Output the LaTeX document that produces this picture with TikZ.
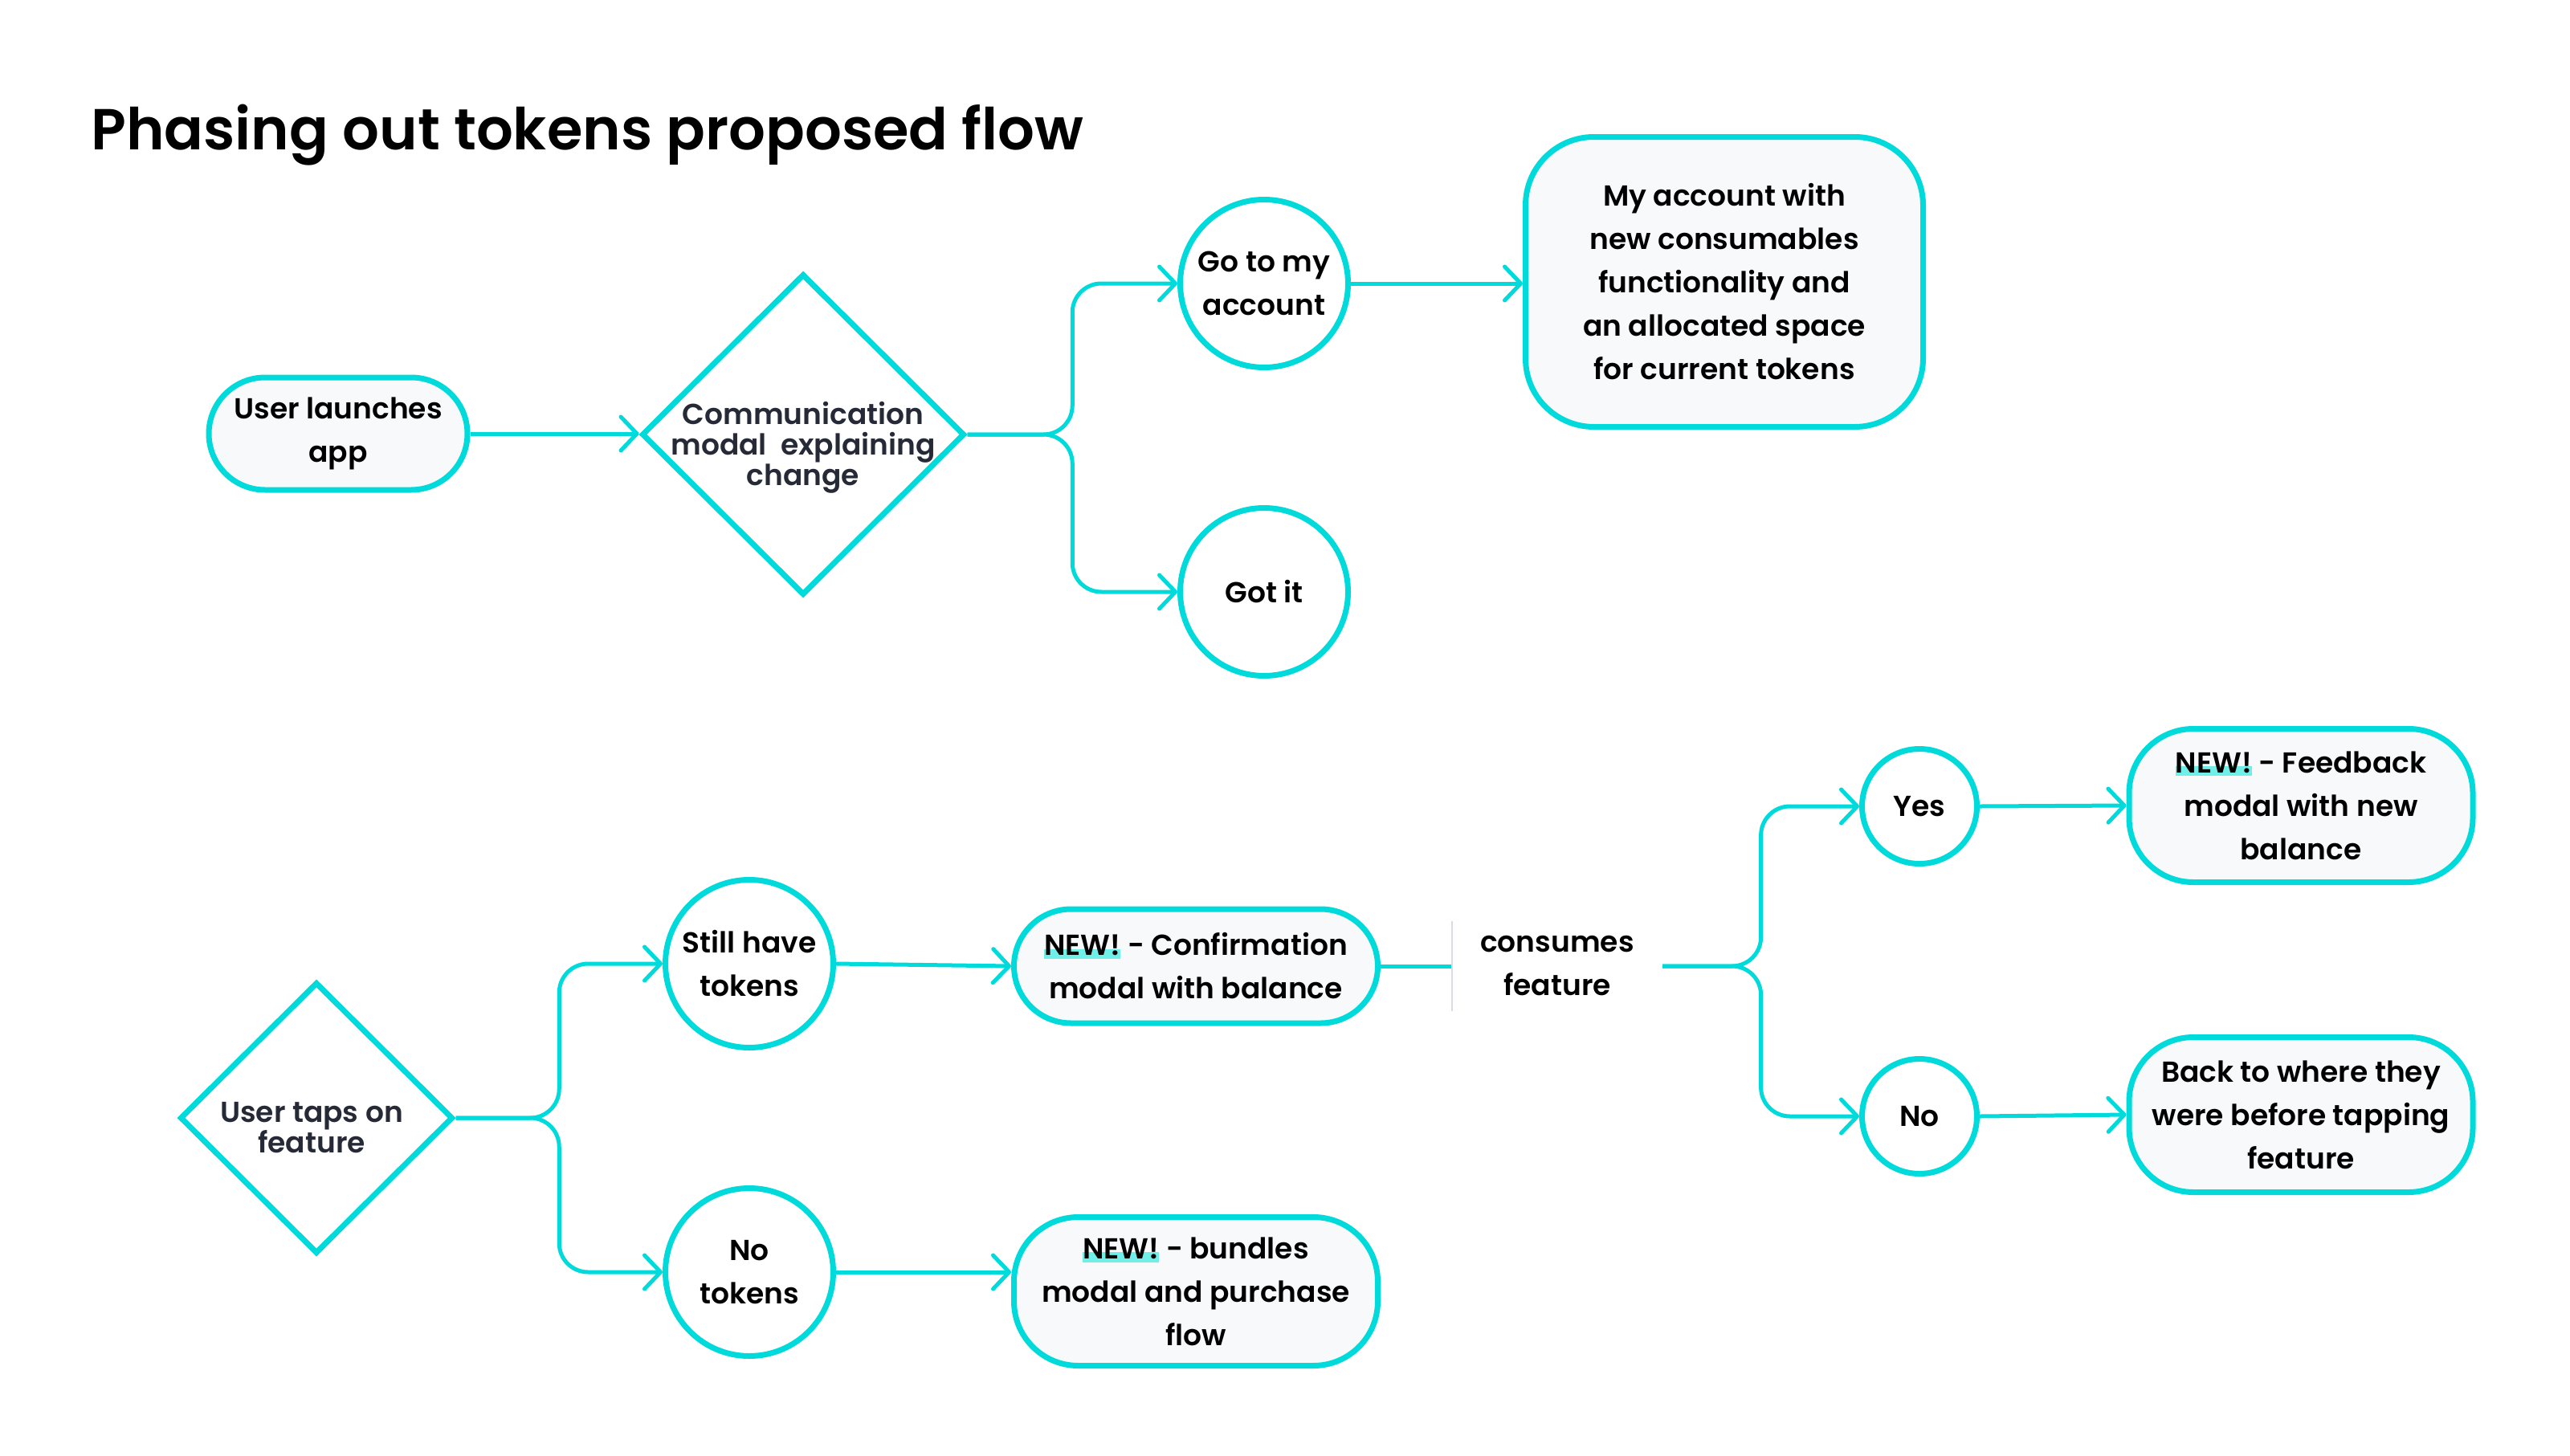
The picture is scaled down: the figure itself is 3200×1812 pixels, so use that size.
\documentclass[tikz,border=0pt]{standalone}
\usepackage{fontspec}
\setmainfont{Poppins}
\newfontfamily\medfont{Poppins Medium}
\newfontfamily\semifont{Poppins SemiBold}
\usepackage{tikz}
\usetikzlibrary{shapes.geometric,arrows.meta,calc}

\definecolor{flowcyan}{HTML}{00DADA}
\definecolor{newbar}{HTML}{6FEFE8}
\definecolor{slate}{HTML}{262A36}
\definecolor{boxfill}{HTML}{F7F9FB}
\definecolor{edgegrey}{HTML}{D9DCE1}

% highlighted NEW! tag
\newcommand{\newtag}{\setbox0\hbox{NEW!}\rlap{\textcolor{newbar}{\rule[-0.12em]{\wd0}{0.34em}}}\box0}

\begin{document}
\begin{tikzpicture}[x=1pt,y=-1pt,
    boxtext/.style={font=\semifont\fontsize{36}{54}\selectfont, align=center, text=black},
    stepbox/.style={boxtext, draw=flowcyan, line width=7pt, fill=boxfill, rectangle, inner sep=0pt},
    choice/.style={boxtext, draw=flowcyan, line width=7pt, fill=white, circle, inner sep=0pt},
    decide/.style={draw=flowcyan, line width=7pt, fill=white, diamond, inner sep=0pt},
    asks/.style={font=\semifont\fontsize{36}{38}\selectfont, align=center, text=slate},
    link/.style={draw=flowcyan, line width=5pt, rounded corners=36pt},
    flow/.style={link, -{Straight Barb[length=20pt,width=42pt,round]}}]
    \useasboundingbox (0,0) rectangle (3200,1812);

    % Title
    \node[anchor=base west, font=\semifont\fontsize{72}{80}\selectfont] (title) at (110,186) {Phasing out tokens proposed flow};

    % Launch branch
    \node[stepbox, minimum width=322, minimum height=140, rounded corners=70pt] (launch) at (421,540) {User launches\\app};
    \node[decide, minimum width=402, minimum height=400,
          label={[asks, yshift=-16pt]center:Communication\\modal\ \ explaining\\change}] (explain) at (1000,541) {};
    \node[choice, minimum size=209] (goto) at (1574,353) {Go to my\\account};
    \node[choice, minimum size=209] (gotit) at (1574,737) {Got it};
    \node[stepbox, minimum width=495, minimum height=361, rounded corners=85pt] (account) at (2147,351)
        {My account with\\new consumables\\functionality and\\an allocated space\\for current tokens};

    % Feature branch
    \node[decide, minimum width=340, minimum height=338,
          label={[asks, yshift=-12pt, xshift=-6pt]center:User taps on\\feature}] (taps) at (394,1392) {};
    \node[choice, minimum size=209] (still) at (933,1200) {Still have\\tokens};
    \node[choice, minimum size=209] (none) at (933,1584) {No\\tokens};
    \node[stepbox, minimum width=453, minimum height=142, rounded corners=71pt] (confirm) at (1489,1203)
        {\newtag{} - Confirmation\\modal with balance};
    \node[stepbox, minimum width=453, minimum height=185, rounded corners=80pt] (bundles) at (1489,1608)
        {\newtag{} - bundles\\modal and purchase\\flow};
    \node[boxtext, minimum width=262, minimum height=112, inner sep=0pt] (consumes) at (1939,1203) {consumes\\feature};
    \node[choice, minimum size=143] (yes) at (2390,1004) {Yes};
    \node[choice, minimum size=143] (no) at (2390,1390) {No};
    \node[stepbox, minimum width=428, minimum height=191, rounded corners=80pt] (feedback) at (2865,1003)
        {\newtag{} - Feedback\\modal with new\\balance};
    \node[stepbox, minimum width=428, minimum height=193, rounded corners=80pt] (back) at (2865,1388)
        {Back to where they\\were before tapping\\feature};

    % Connectors
    \draw[flow] (launch.east) -- (launch.east -| explain.west);
    \draw[flow] (explain.east) -| ($(explain.east)!0.5!(goto.west)$) |- (goto.west);
    \draw[flow] (explain.east) -| ($(explain.east)!0.5!(gotit.west)$) |- (gotit.west);
    \draw[flow] (goto.east) -- (goto.east -| account.west);

    \draw[flow] (taps.east) -| ($(taps.east)!0.5!(still.west)$) |- (still.west);
    \draw[flow] (taps.east) -| ($(taps.east)!0.5!(none.west)$) |- (none.west);
    \draw[flow] (still.east) -- (confirm.west);
    \draw[flow] (none.east) -- (none.east -| bundles.west);
    \draw[link] (confirm.east) -- (consumes.west);
    \draw[edgegrey, line width=1.5pt] (consumes.north west) -- (consumes.south west);
    \draw[flow] (consumes.east) -| ($(consumes.east)!0.5!(yes.west)$) |- (yes.west);
    \draw[flow] (consumes.east) -| ($(consumes.east)!0.5!(no.west)$) |- (no.west);
    \draw[flow] (yes.east) -- (feedback.west);
    \draw[flow] (no.east) -- (back.west);
\end{tikzpicture}
\end{document}
